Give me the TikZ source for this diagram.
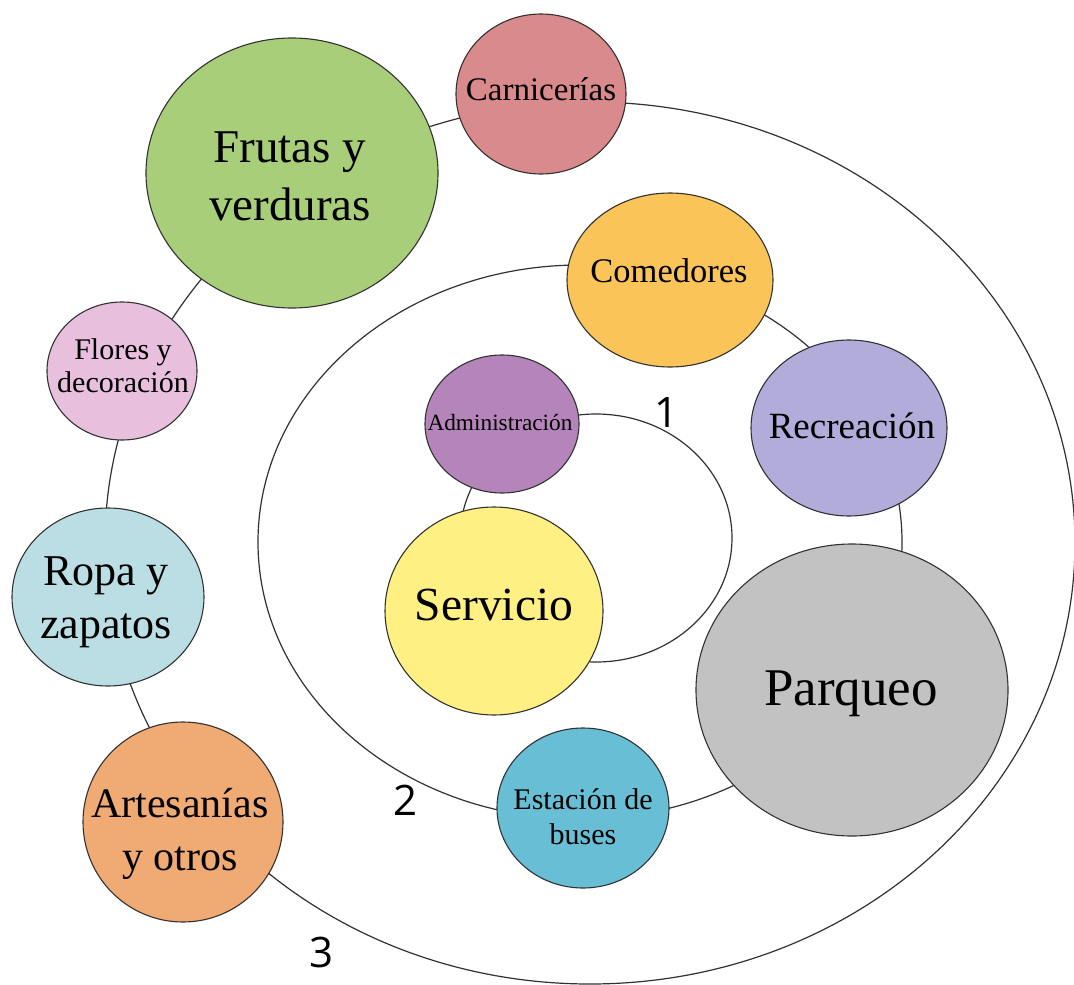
\documentclass[tikz,border=0pt]{standalone}
\usepackage{fontspec}
\setmainfont{Liberation Serif}
\newfontfamily\numfont{Open Sans}
\usetikzlibrary{shapes.geometric}
\definecolor{cCarn}{RGB}{217,138,140}
\definecolor{cFrut}{RGB}{168,206,122}
\definecolor{cFlor}{RGB}{232,192,222}
\definecolor{cRopa}{RGB}{186,222,228}
\definecolor{cArte}{RGB}{240,170,116}
\definecolor{cCome}{RGB}{250,196,88}
\definecolor{cRecr}{RGB}{178,172,218}
\definecolor{cAdmi}{RGB}{180,132,186}
\definecolor{cServ}{RGB}{255,240,132}
\definecolor{cParq}{RGB}{194,194,194}
\definecolor{cEsta}{RGB}{104,190,212}
\definecolor{cLine}{RGB}{50,50,50}
\begin{document}
\begin{tikzpicture}[x=1pt,y=-1pt,
  bubble/.style={ellipse, draw=cLine, line width=1.1pt, inner sep=0pt},
  lbl/.style={inner sep=0pt, align=center, text=black},
  ring/.style={draw=cLine, line width=1.2pt},
  num/.style={font=\numfont\fontsize{42}{42}\selectfont, inner sep=0pt, text=black}]
\useasboundingbox[fill=white] (0,0) rectangle (1074,985);

% rings (drawn behind the bubbles)
\coordinate (c1) at (596,538);
\coordinate (c2) at (580,542);
\coordinate (c3) at (590,543);
\draw[ring] (c1) ellipse [x radius=136pt, y radius=124pt];
\draw[ring] (c2) ellipse [x radius=322pt, y radius=277pt];
\draw[ring] (c3) ellipse [x radius=485pt, y radius=441pt];

% outer ring bubbles
\node[bubble, fill=cCarn, minimum width=170pt, minimum height=160pt] (carn) at (541,94) {};
\node[lbl, anchor=base, font=\fontsize{33}{40}\selectfont] (carn-t) at (541,100) {Carnicerías};

\node[bubble, fill=cFrut, minimum width=292pt, minimum height=270pt] (frut) at (292,173) {};
\node[lbl, font=\fontsize{47}{58}\selectfont] (frut-t) at (290,176) {Frutas y\\verduras};

\node[bubble, fill=cFlor, minimum width=150pt, minimum height=138pt] (flor) at (122,371) {};
\node[lbl, font=\fontsize{30}{33}\selectfont] (flor-t) at (123,366) {Flores y\\decoración};

\node[bubble, fill=cRopa, minimum width=192pt, minimum height=178pt] (ropa) at (108,597) {};
\node[lbl, font=\fontsize{44}{53}\selectfont] (ropa-t) at (106,602) {Ropa y\\zapatos};

\node[bubble, fill=cArte, minimum width=200pt, minimum height=200pt] (arte) at (183,822) {};
\node[lbl, font=\fontsize{42}{53}\selectfont] (arte-t) at (180,834) {Artesanías\\y otros};

% middle ring bubbles
\node[bubble, fill=cCome, minimum width=206pt, minimum height=174pt] (come) at (670,280) {};
\node[lbl, anchor=base, font=\fontsize{34.5}{40}\selectfont] (come-t) at (669,282) {Comedores};

\node[bubble, fill=cRecr, minimum width=196pt, minimum height=176pt] (recr) at (849,428) {};
\node[lbl, anchor=base, font=\fontsize{37}{44}\selectfont] (recr-t) at (852,438) {Recreación};

\node[bubble, fill=cParq, minimum width=312pt, minimum height=292pt] (parq) at (852,690) {};
\node[lbl, anchor=base, font=\fontsize{53}{60}\selectfont] (parq-t) at (851,705) {Parqueo};

\node[bubble, fill=cEsta, minimum width=172pt, minimum height=160pt] (esta) at (583,808) {};
\node[lbl, font=\fontsize{30}{35}\selectfont] (esta-t) at (583,817) {Estación de\\buses};

% inner ring bubbles
\node[bubble, fill=cAdmi, minimum width=154pt, minimum height=138pt] (admi) at (502,424) {};
\node[lbl, anchor=base, font=\fontsize{23.3}{28}\selectfont] (admi-t) at (500,430) {Administración};

\node[bubble, fill=cServ, minimum width=218pt, minimum height=208pt] (serv) at (494,611) {};
\node[lbl, anchor=base, font=\fontsize{47.5}{55}\selectfont] (serv-t) at (494,620) {Servicio};

% ring numbers
\node[num] (n1) at (667,413) {1};
\node[num] (n2) at (406,800) {2};
\node[num] (n3) at (322,952) {3};
\end{tikzpicture}
\end{document}
